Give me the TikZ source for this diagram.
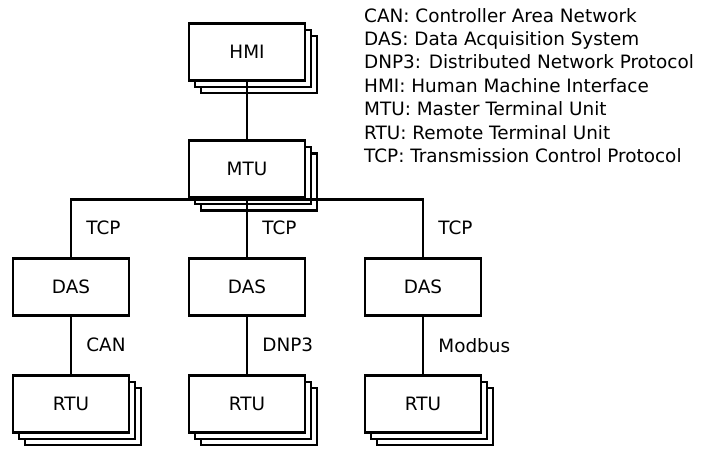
\documentclass[tikz,border=0pt]{standalone}
\usepackage{fontspec}
\setmainfont{DejaVu Sans}
\usetikzlibrary{positioning}
\usetikzlibrary{shadows}

\begin{document}
\begin{tikzpicture}[
		x=1pt, y=-1pt,
		node distance=57.5pt and 57.2pt,
		font=\fontsize{18.4}{23.4}\selectfont,
		line/.style={line width=2.8pt},
		block/.style={draw, line width=2.8pt, fill=white, minimum width=116pt, minimum height=57pt, inner sep=0pt},
		stack/.style={block, double copy shadow={shadow xshift=6pt, shadow yshift=-6.3pt, draw, line width=2.4pt, fill=white}},
		lbl/.style={right, inner sep=0pt, xshift=14pt},
	]
		\useasboundingbox (0,0) rectangle (702,448);

		\node[stack] (hmi) at (247,52) {HMI};
		\node[stack, below=of hmi] (mtu) {MTU};
		\node[block, below=of mtu] (dascan) {DAS};
		\node[block, left=of dascan] (dasdnp) {DAS};
		\node[block, right=of dascan] (dasmod) {DAS};
		\node[stack, below=of dasdnp] (rtucan) {RTU};
		\node[stack, below=of dascan] (rtudnp) {RTU};
		\node[stack, below=of dasmod] (rtumod) {RTU};

		\draw[line] (hmi) -- (mtu);

		\draw[line] (mtu.south) -| node[pos=0.75, lbl] {TCP} (dasdnp.north);
		\draw[line] (mtu.south) -- node[lbl] {TCP} (dascan.north);
		\draw[line] (mtu.south) -| node[pos=0.75, lbl] {TCP} (dasmod.north);

		\draw[line] (dasdnp) -- node[lbl] {CAN} (rtucan);
		\draw[line] (dascan) -- node[lbl] {DNP3} (rtudnp);
		\draw[line] (dasmod) -- node[lbl] {Modbus} (rtumod);

		\node[anchor=north west, align=left, inner sep=0pt] (legend) at (364,8) {CAN: Controller Area Network\\
			DAS: Data Acquisition System\\
			DNP3: Distributed Network Protocol\\
			HMI: Human Machine Interface\\
			MTU: Master Terminal Unit\\
			RTU: Remote Terminal Unit\\
			TCP: Transmission Control Protocol};
\end{tikzpicture}
\end{document}
